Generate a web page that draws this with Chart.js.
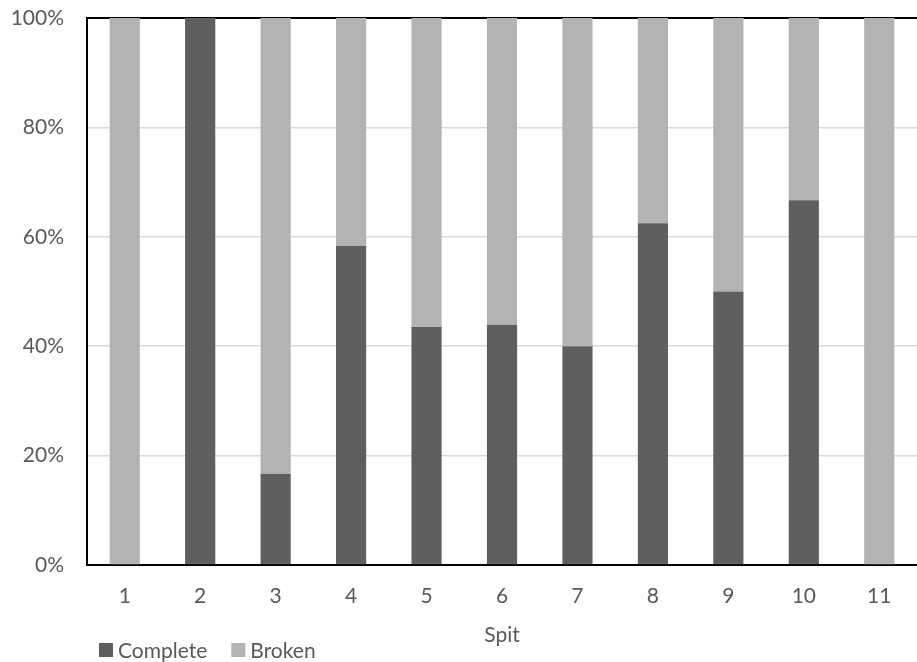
<!DOCTYPE html>
<html>
<head>
<meta charset="utf-8">
<script src="https://cdn.jsdelivr.net/npm/chart.js@4/dist/chart.umd.min.js"></script>
<style>
  html, body { margin: 0; padding: 0; background: #fff; }
  #wrap { width: 917px; height: 662px; position: relative; }
</style>
</head>
<body>
<div id="wrap"><canvas id="chart"></canvas></div>
<script>
const spits = ['1', '2', '3', '4', '5', '6', '7', '8', '9', '10', '11'];
// share of complete pieces per spit, in percent
const complete = [0, 100, 16.7, 58.3, 43.5, 43.9, 40, 62.5, 50, 66.7, 0];
const broken = [100, 0, 83.3, 41.7, 56.5, 56.1, 60, 37.5, 50, 33.3, 100];
const yTicks = [0, 20, 40, 60, 80, 100];

const TEXT = '#595959';
const FONT = 'Lato, "Open Sans", sans-serif';
const SIZE = 21;

// Excel-style legend sitting under the axis title, left aligned.
const legendPlugin = {
  id: 'bottomLegend',
  afterDraw(chart) {
    const { ctx, chartArea } = chart;
    ctx.save();
    ctx.font = SIZE + 'px ' + FONT;
    ctx.textBaseline = 'middle';
    ctx.textAlign = 'left';
    let x = chartArea.left + 12;
    const y = 650;
    chart.data.datasets.forEach((ds) => {
      ctx.fillStyle = ds.backgroundColor;
      ctx.fillRect(x, y - 7, 14, 14);
      ctx.fillStyle = TEXT;
      ctx.fillText(ds.label, x + 19, y + 1);
      x += 19 + ctx.measureText(ds.label).width + 24;
    });
    ctx.restore();
  },
};

new Chart(document.getElementById('chart'), {
  type: 'bar',
  data: {
    labels: spits,
    datasets: [
      { label: 'Complete', data: complete, backgroundColor: '#5f5f5f' },
      { label: 'Broken', data: broken, backgroundColor: '#b3b3b3' },
    ],
  },
  options: {
    responsive: true,
    maintainAspectRatio: false,
    animation: false,
    devicePixelRatio: 1,
    barPercentage: 0.4,
    categoryPercentage: 1,
    layout: { padding: { top: 18, right: 0, left: 0, bottom: 0 } },
    plugins: {
      legend: { display: false },
      tooltip: { enabled: false },
    },
    scales: {
      x: {
        stacked: true,
        grid: { display: false, drawTicks: false },
        border: { color: '#000', width: 2 },
        ticks: { color: TEXT, font: { family: FONT, size: SIZE }, padding: 19 },
        title: {
          display: true,
          text: 'Spit',
          color: TEXT,
          font: { family: FONT, size: SIZE },
          padding: { top: 4, bottom: 14 },
        },
        afterFit(s) {
          s.height = 97;
          s.paddingLeft = 0;
          s.paddingRight = 0;
        },
      },
      y: {
        stacked: true,
        min: 0,
        max: 100,
        afterBuildTicks(s) { s.ticks = yTicks.map((v) => ({ value: v })); },
        grid: {
          drawTicks: false,
          color: (c) => (c.tick && c.tick.value === 100 ? '#000' : '#d9d9d9'),
          lineWidth: (c) => (c.tick && c.tick.value === 100 ? 2 : 1.5),
        },
        border: { color: '#000', width: 2 },
        ticks: {
          color: TEXT,
          font: { family: FONT, size: SIZE },
          padding: 23,
          callback: (v) => v + '%',
        },
        afterFit(s) {
          s.width = 87;
          s.paddingTop = 0;
          s.paddingBottom = 0;
        },
      },
    },
  },
  plugins: [legendPlugin],
});
</script>
</body>
</html>
